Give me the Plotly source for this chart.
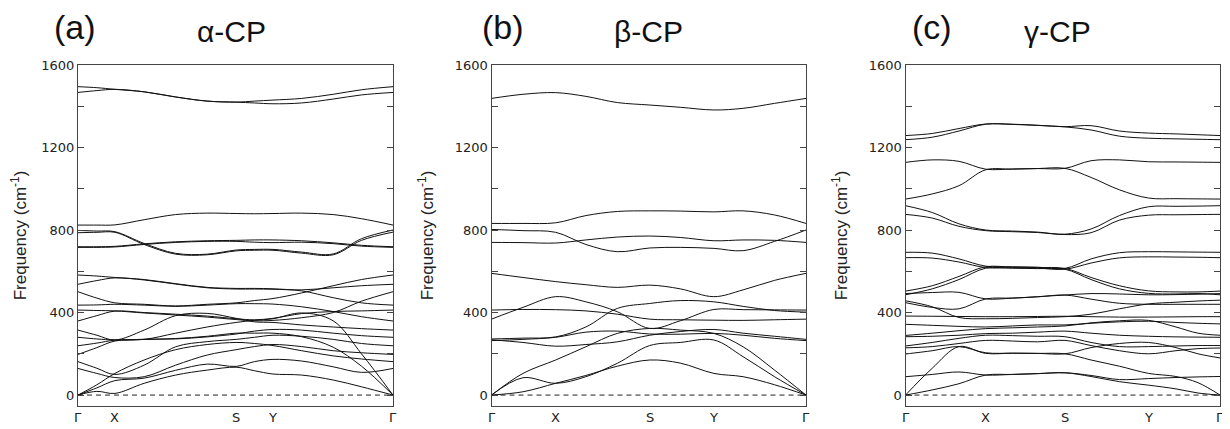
import plotly.graph_objects as go

# ---- panel (a) alpha-CP ----
a_kpts = [0, 0.117, 0.502, 0.619, 1.0]
a_x = [0, .06, .117, .21, .31, .41, .502, .56, .619, .71, .81, .9, 1]
a_bands = [
    [1495, 1490, 1482, 1470, 1445, 1425, 1420, 1425, 1430, 1438, 1458, 1480, 1495],
    [1467, 1476, 1482, 1470, 1445, 1425, 1420, 1416, 1412, 1416, 1435, 1455, 1467],
    [824, 824, 825, 850, 875, 882, 880, 879, 880, 882, 875, 855, 824],
    [798, 795, 792, 735, 687, 683, 703, 706, 706, 693, 684, 758, 800],
    [787, 789, 789, 730, 683, 680, 699, 702, 702, 688, 680, 750, 790],
    [719, 719, 721, 733, 743, 748, 750, 752, 752, 748, 738, 726, 719],
    [716, 716, 718, 730, 740, 745, 745, 741, 739, 741, 734, 722, 716],
    [582, 577, 570, 560, 540, 522, 517, 517, 515, 505, 472, 447, 436],
    [537, 555, 568, 558, 538, 520, 514, 514, 513, 510, 520, 530, 537],
    [501, 470, 447, 440, 432, 440, 447, 458, 468, 495, 530, 560, 582],
    [436, 437, 440, 436, 430, 436, 443, 443, 441, 428, 405, 380, 359],
    [412, 410, 408, 398, 388, 378, 366, 360, 362, 375, 400, 455, 501],
    [359, 385, 407, 400, 392, 383, 370, 365, 372, 395, 405, 408, 412],
    [315, 290, 267, 315, 385, 396, 372, 355, 352, 340, 330, 322, 315],
    [280, 272, 267, 270, 300, 330, 352, 362, 370, 398, 360, 200, 0],
    [239, 252, 266, 270, 274, 285, 300, 300, 300, 283, 232, 140, 0],
    [197, 230, 262, 270, 272, 282, 296, 310, 318, 315, 300, 288, 280],
    [162, 130, 100, 145, 234, 259, 270, 280, 290, 285, 270, 250, 239],
    [129, 105, 85, 89, 145, 194, 220, 235, 245, 235, 215, 205, 197],
    [0, 50, 105, 170, 220, 245, 255, 250, 240, 215, 190, 175, 162],
    [0, 35, 70, 82, 120, 150, 139, 162, 173, 165, 137, 110, 129],
    [0, 18, 8, 57, 97, 121, 135, 118, 102, 97, 73, 40, 0],
]

# ---- panel (b) beta-CP ----
b_kpts = [0, 0.204, 0.503, 0.707, 1.0]
b_x = [0, .1, .204, .3, .4, .503, .6, .707, .8, .9, 1]
b_bands = [
    [1438, 1458, 1466, 1448, 1418, 1406, 1395, 1382, 1390, 1414, 1438],
    [832, 832, 835, 870, 890, 893, 892, 888, 893, 873, 832],
    [803, 797, 789, 730, 695, 713, 716, 711, 700, 745, 800],
    [740, 739, 737, 752, 766, 771, 764, 748, 752, 750, 740],
    [590, 570, 550, 535, 522, 533, 515, 477, 510, 556, 590],
    [412, 415, 414, 408, 392, 368, 365, 363, 362, 365, 368],
    [368, 425, 477, 452, 404, 323, 360, 415, 414, 413, 412],
    [272, 276, 282, 330, 420, 444, 458, 452, 430, 410, 402],
    [268, 255, 237, 245, 258, 290, 308, 318, 300, 285, 270],
    [264, 270, 280, 305, 310, 296, 295, 299, 290, 275, 264],
    [0, 105, 170, 234, 299, 323, 315, 299, 234, 121, 0],
    [0, 84, 57, 89, 154, 240, 255, 267, 186, 89, 0],
    [0, 16, 57, 95, 140, 170, 155, 105, 89, 50, 0],
]

# ---- panel (c) gamma-CP ----
c_kpts = [0, 0.255, 0.507, 0.773, 1.0]
c_x = [0, .085, .17, .255, .34, .42, .507, .59, .68, .773, .86, .93, 1]
c_bands = [
    [1258, 1268, 1292, 1314, 1313, 1308, 1301, 1306, 1280, 1270, 1266, 1262, 1258],
    [1238, 1250, 1280, 1313, 1312, 1307, 1300, 1285, 1255, 1245, 1242, 1240, 1238],
    [1128, 1140, 1133, 1095, 1096, 1098, 1099, 1136, 1140, 1131, 1130, 1129, 1128],
    [950, 975, 1015, 1092, 1095, 1098, 1099, 1055, 995, 955, 952, 951, 950],
    [918, 885, 830, 800, 795, 790, 780, 805, 870, 913, 915, 916, 918],
    [876, 858, 818, 797, 792, 788, 778, 787, 848, 872, 874, 875, 876],
    [692, 688, 660, 625, 622, 620, 614, 660, 690, 695, 694, 693, 692],
    [666, 664, 645, 618, 617, 615, 610, 640, 665, 670, 669, 668, 666],
    [504, 530, 575, 622, 620, 618, 614, 570, 530, 505, 500, 500, 504],
    [486, 515, 560, 615, 615, 613, 610, 560, 515, 493, 490, 492, 486],
    [492, 497, 498, 466, 470, 477, 485, 492, 490, 486, 487, 489, 492],
    [457, 428, 376, 370, 372, 376, 380, 392, 418, 442, 450, 456, 460],
    [448, 425, 418, 466, 470, 476, 485, 465, 445, 440, 440, 440, 440],
    [383, 382, 381, 380, 380, 381, 382, 380, 378, 378, 379, 380, 380],
    [343, 338, 333, 330, 335, 340, 340, 348, 355, 358, 352, 348, 345],
    [289, 300, 312, 322, 326, 330, 335, 350, 360, 362, 330, 300, 290],
    [283, 285, 290, 298, 300, 305, 310, 300, 290, 285, 282, 281, 280],
    [238, 255, 275, 290, 288, 285, 283, 255, 235, 235, 238, 240, 240],
    [229, 235, 250, 265, 262, 258, 265, 240, 215, 200, 215, 225, 228],
    [199, 215, 235, 205, 203, 202, 200, 230, 250, 255, 230, 200, 180],
    [0, 130, 235, 202, 203, 202, 200, 170, 140, 105, 90, 60, 0],
    [89, 100, 112, 97, 100, 104, 108, 95, 75, 80, 85, 88, 90],
    [0, 25, 55, 97, 100, 104, 108, 90, 65, 48, 30, 10, 0],
]

kpt_labels = ["Γ", "X", "S", "Y", "Γ"]
panel_tags = ["(a)", "(b)", "(c)"]
panel_names = ["α-CP", "β-CP", "γ-CP"]
yticks = [0, 200, 400, 600, 800, 1000, 1200, 1400, 1600]
ylabels = ["0", "", "400", "", "800", "", "1200", "", "1600"]

# the page body keeps an 8px margin, so the figure starts at (8, 8)
OFF = 8
W, H = 1230 - OFF, 429 - OFF
def px(v):
    return (v - OFF) / W
def py(v):
    return 1 - (v - OFF) / H

boxes = [(78, 393), (491.5, 806), (905.5, 1220)]
top_px, bot_px = 65, 406
tag_x = [75, 503, 932]
name_x = [231, 648, 1057]

fig = go.Figure()
panels = [(a_x, a_bands, a_kpts), (b_x, b_bands, b_kpts), (c_x, c_bands, c_kpts)]
for i, (xs, bands, kp) in enumerate(panels):
    xa = "x" if i == 0 else "x%d" % (i + 1)
    ya = "y" if i == 0 else "y%d" % (i + 1)
    fig.add_trace(go.Scatter(x=[0, 1], y=[0, 0], mode="lines", xaxis=xa, yaxis=ya,
                             line=dict(color="#222", width=1, dash="5px,4px"),
                             showlegend=False, hoverinfo="skip"))
    for b in bands:
        fig.add_trace(go.Scatter(x=xs, y=b, mode="lines", xaxis=xa, yaxis=ya,
                                 line=dict(color="#111", width=1, shape="spline", smoothing=1.0),
                                 showlegend=False))
    l, r = boxes[i]
    ax = dict(domain=[px(l), px(r)], range=[0, 1], tickvals=kp, showticklabels=False,
              ticks="", showgrid=False, zeroline=False, showline=True, mirror=True,
              linecolor="#444", linewidth=1.3, anchor=ya, automargin=False)
    ay = dict(domain=[py(bot_px), py(top_px)], range=[-53, 1600],
              tickvals=yticks, ticktext=ylabels, ticks="inside", ticklen=6,
              tickcolor="#444", showgrid=False, zeroline=False, showline=True,
              mirror="ticks", linecolor="#444", linewidth=1.3, anchor=xa, automargin=False,
              tickfont=dict(family="DejaVu Sans", size=13, color="#222"),
              title=dict(text="Frequency (cm<sup>-1</sup>)", standoff=16,
                         font=dict(family="Liberation Sans", size=17, color="#222")))
    key = "" if i == 0 else str(i + 1)
    fig.layout["xaxis" + key] = ax
    fig.layout["yaxis" + key] = ay
    # high-symmetry point labels under each panel
    for k, lab in zip(kp, kpt_labels):
        fig.add_annotation(text=lab, x=k, xref=xa, y=py(417), yref="paper",
                           xanchor="center", yanchor="middle", showarrow=False,
                           font=dict(family="DejaVu Sans", size=13, color="#222"))
    fig.add_annotation(text=panel_tags[i], x=px(tag_x[i]), y=py(27), xref="paper", yref="paper",
                       xanchor="center", yanchor="middle", showarrow=False,
                       font=dict(family="Liberation Sans", size=34, color="#111"))
    fig.add_annotation(text=panel_names[i], x=px(name_x[i]), y=py(32), xref="paper", yref="paper",
                       xanchor="center", yanchor="middle", showarrow=False,
                       font=dict(family="Liberation Sans", size=30, color="#111"))

fig.update_layout(width=W, height=H, margin=dict(l=0, r=0, t=0, b=0, autoexpand=False),
                  plot_bgcolor="white", paper_bgcolor="white")
fig.write_html("out.html")
